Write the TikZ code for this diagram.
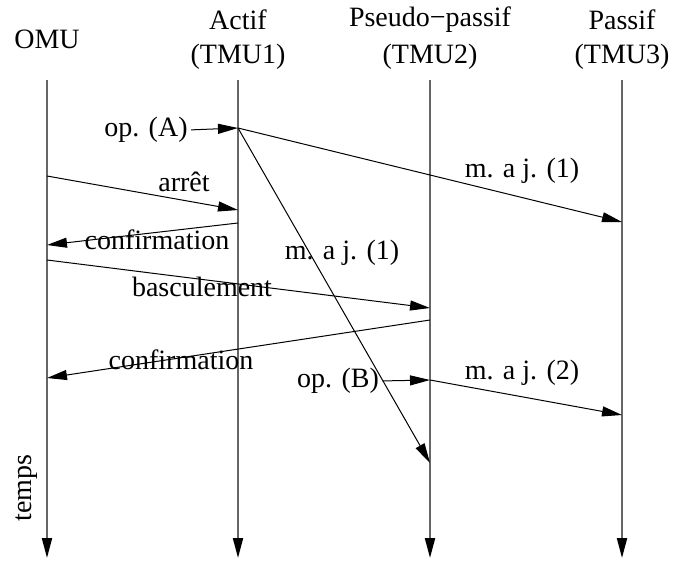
\documentclass[tikz,border=0pt]{standalone}
\usepackage{fontspec}
\setmainfont{Liberation Serif}
\usetikzlibrary{arrows.meta}
\tikzstyle{hd}=[font=\fontsize{14}{17}\selectfont,
                inner sep=0pt]
\tikzstyle{lb}=[font=\fontsize{14}{17}\selectfont,
                inner sep=0pt]
\tikzstyle{ll}=[draw=black!60,
                line width=1pt,
                -{Triangle[length=10pt,width=5pt,color=black]}]

\begin{document}
\begin{tikzpicture}[>={Triangle[length=10pt,width=5pt]},line width=0.5pt,x=0.5pt,y=-0.5pt]
\useasboundingbox (0,0) rectangle (678,561);

% processes
\node[hd] (omu) at (47,39) {OMU};
\node[hd] (actif) at (238,20) {Actif};
\node[hd] (tmu1) at (238,57) {(TMU1)};
\node[hd] (pseudo) at (430,20) {Pseudo−passif};
\node[hd] (tmu2) at (430,57) {(TMU2)};
\node[hd] (passif) at (622,20) {Passif};
\node[hd] (tmu3) at (622,57) {(TMU3)};

% lifelines
\coordinate (s0) at (47,80);
\coordinate (s1) at (238,80);
\coordinate (s2) at (430,80);
\coordinate (s3) at (622,80);
\coordinate (e0) at (47,558);
\coordinate (e1) at (238,558);
\coordinate (e2) at (430,558);
\coordinate (e3) at (622,558);
\path[ll] (s0) -- (e0);
\path[ll] (s1) -- (e1);
\path[ll] (s2) -- (e2);
\path[ll] (s3) -- (e3);
\node[lb,rotate=90] (temps) at (27,488) {temps};

% events
\coordinate (a1) at (238,128);
\coordinate (a2) at (238,210);
\coordinate (a3) at (238,223);
\coordinate (o1) at (47,176);
\coordinate (o2) at (47,245);
\coordinate (o3) at (47,260);
\coordinate (o4) at (47,378);
\coordinate (p1) at (430,308);
\coordinate (p2) at (430,320);
\coordinate (p3) at (430,380);
\coordinate (p4) at (430,463);
\coordinate (q1) at (622,222);
\coordinate (q2) at (622,415);

% labels
\node[lb] (opa) at (146,130) {op. (A)};
\node[lb] (opb) at (338,381) {op. (B)};
\node[lb] (arret) at (184,182) {arrêt};
\node[lb] (conf1) at (157,240) {confirmation};
\node[lb] (bascul) at (202,287) {basculement};
\node[lb] (conf2) at (181,360) {confirmation};
\node[lb] (maj1) at (522,171) {m. a j. (1)};
\node[lb] (maj2) at (342,253) {m. a j. (1)};
\node[lb] (maj3) at (522,373) {m. a j. (2)};

% messages
\path[->] (opa.east) edge [shorten <=1.5pt] (a1);
\path[->] (a1) edge (q1);
\path[->] (a1) edge (p4);
\path[->] (o1) edge (a2);
\path[->] (a3) edge (o2);
\path[->] (o3) edge (p1);
\path[->] (p2) edge (o4);
\path[->] (opb.east) edge [shorten <=1.5pt] (p3);
\path[->] (p3) edge (q2);

\end{tikzpicture}
\end{document}
